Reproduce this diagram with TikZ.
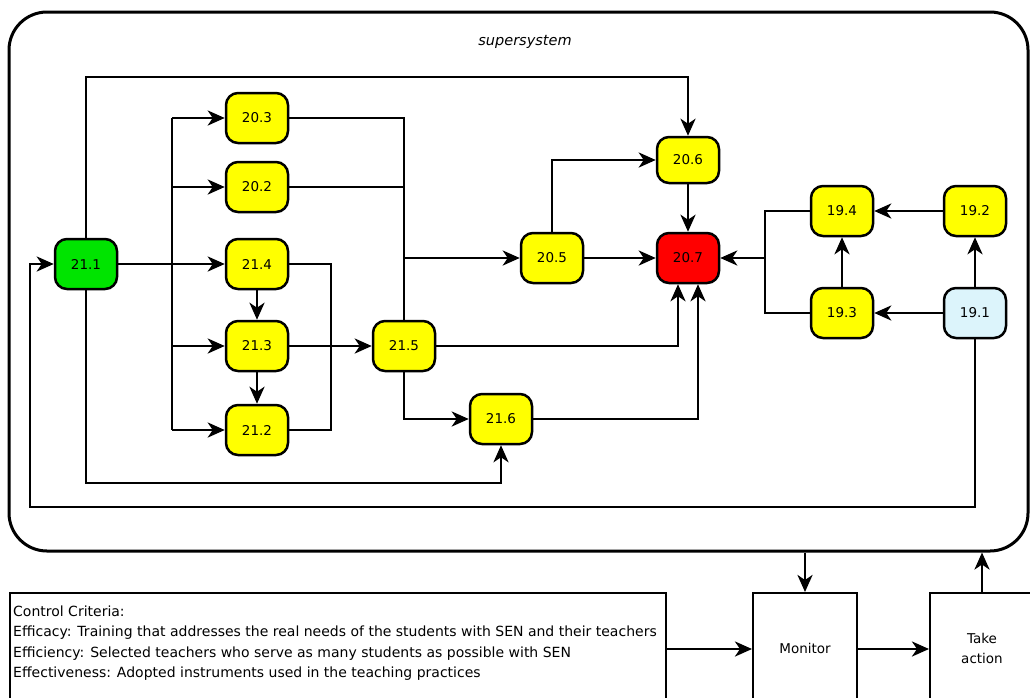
\documentclass[tikz,border=0pt]{standalone}
\usepackage{fontspec}
\setmainfont{DejaVu Sans}
\usetikzlibrary{arrows.meta,calc}
\definecolor{nyellow}{HTML}{FFFF00}
\definecolor{ngreen}{HTML}{00E400}
\definecolor{nred}{HTML}{FF0000}
\definecolor{nblue}{HTML}{DCF4FB}
\begin{document}
\begin{tikzpicture}[x=1pt,y=-1pt,
  proc/.style={draw,line width=2.5pt,rounded corners=12pt,minimum width=62pt,minimum height=50pt,inner sep=0pt,font=\fontsize{13.5}{16}\selectfont,fill=nyellow},
  conn/.style={line width=2.8pt},
  arr/.style={conn,-{Stealth[length=17pt,width=15pt,inset=5pt]}},
  bigbox/.style={draw,line width=2pt,inner sep=0pt},
  lbl/.style={font=\fontsize{13.5}{16}\selectfont},
]
\useasboundingbox (0,0) rectangle (1030,697);
\begin{scope}
\clip (0,0) rectangle (1030,697);
% supersystem
\node[draw,line width=3pt,rounded corners=38pt,minimum width=1019pt,minimum height=539pt,inner sep=0pt] (ss) at (518.5,281.5) {};
\node[lbl,font=\itshape\fontsize{14.5}{16}\selectfont] (sslbl) at (525,42) {supersystem};
% bottom boxes
\node[bigbox,minimum width=656pt,minimum height=112pt] (crit) at (338,649) {};
\node[lbl,anchor=west,align=left,inner sep=0pt,font=\fontsize{14}{20.3}\selectfont] (crittext) at (13,643) {Control Criteria:\\Efficacy: Training that addresses the real needs of the students with SEN and their teachers\\Efficiency: Selected teachers who serve as many students as possible with SEN\\Effectiveness: Adopted instruments used in the teaching practices};
\node[bigbox,minimum width=104pt,minimum height=112pt] (mon) at (805,649) {};
\node[lbl] (monlbl) at (805,648) {Monitor};
\node[bigbox,minimum width=104pt,minimum height=112pt] (take) at (982,649) {};
\node[lbl,align=center,font=\fontsize{13.5}{20}\selectfont] (takelbl) at (982,648) {Take\\action};
\end{scope}
% process nodes
\node[proc,fill=ngreen] (n211) at (86,264) {21.1};
\node[proc] (n203) at (257,118) {20.3};
\node[proc] (n202) at (257,187) {20.2};
\node[proc] (n214) at (257,264) {21.4};
\node[proc] (n213) at (257,346) {21.3};
\node[proc] (n212) at (257,430) {21.2};
\node[proc] (n215) at (404,346) {21.5};
\node[proc] (n216) at (501,419) {21.6};
\node[proc] (n205) at (552,258) {20.5};
\node[proc,minimum height=46pt] (n206) at (688,160) {20.6};
\node[proc,fill=nred] (n207) at (688,258) {20.7};
\node[proc] (n194) at (842,211) {19.4};
\node[proc] (n192) at (975,211) {19.2};
\node[proc] (n193) at (842,313) {19.3};
\node[proc,fill=nblue] (n191) at (975,313) {19.1};
% helper coordinates
\coordinate (top) at (0,77);
\coordinate (bx) at (172,0);
\coordinate (rx) at (331,0);
\coordinate (lx) at (765,0);
\coordinate (inb) at (0,483);
\coordinate (ob) at (30,507);
\coordinate (a1) at ($(n207.south)+(-10,0)$);
\coordinate (a2) at ($(n207.south)+(10,0)$);
% connectors
\draw[arr] (n211.north) -- (n211.north |- top) -| (n206.north);
\draw[conn] (bx |- n203) -- (bx |- n212);
\draw[arr] (bx |- n203) -- (n203.west);
\draw[arr] (bx |- n202) -- (n202.west);
\draw[arr] (bx |- n213) -- (n213.west);
\draw[arr] (bx |- n212) -- (n212.west);
\draw[arr] (n211.east) -- (n214.west);
\draw[arr] (n214.south) -- (n213.north);
\draw[arr] (n213.south) -- (n212.north);
\draw[conn] (n214.east) -| (rx |- n212) -- (n212.east);
\draw[arr] (n213.east) -- (n215.west);
\draw[conn] (n203.east) -| (n215.north);
\draw[conn] (n202.east) -- (n202.east -| n215.north);
\draw[arr] (n215.north |- n205) -- (n205.west);
\draw[arr] (n215.south) |- (n216.west);
\draw[arr] (n215.east) -| (a1);
\draw[arr] (n216.east) -| (a2);
\draw[arr] (n211.south) -- (n211.south |- inb) -| (n216.south);
\draw[arr] (n205.north) |- (n206.west);
\draw[arr] (n205.east) -- (n207.west);
\draw[arr] (n206.south) -- (n207.north);
\draw[conn] (n194.west) -| (lx |- n193) -- (n193.west);
\draw[arr] (lx |- n207) -- (n207.east);
\draw[arr] (n192.west) -- (n194.east);
\draw[arr] (n191.west) -- (n193.east);
\draw[arr] (n193.north) -- (n194.south);
\draw[arr] (n191.north) -- (n192.south);
\draw[arr] (n191.south) |- (ob) |- (n211.west);
% control loop
\draw[arr] (crit.east) -- (mon.west);
\draw[arr] (mon.east) -- (take.west);
\draw[arr] (ss.south -| mon.north) -- (mon.north);
\draw[arr] (take.north) -- (take.north |- ss.south);
\end{tikzpicture}
\end{document}
